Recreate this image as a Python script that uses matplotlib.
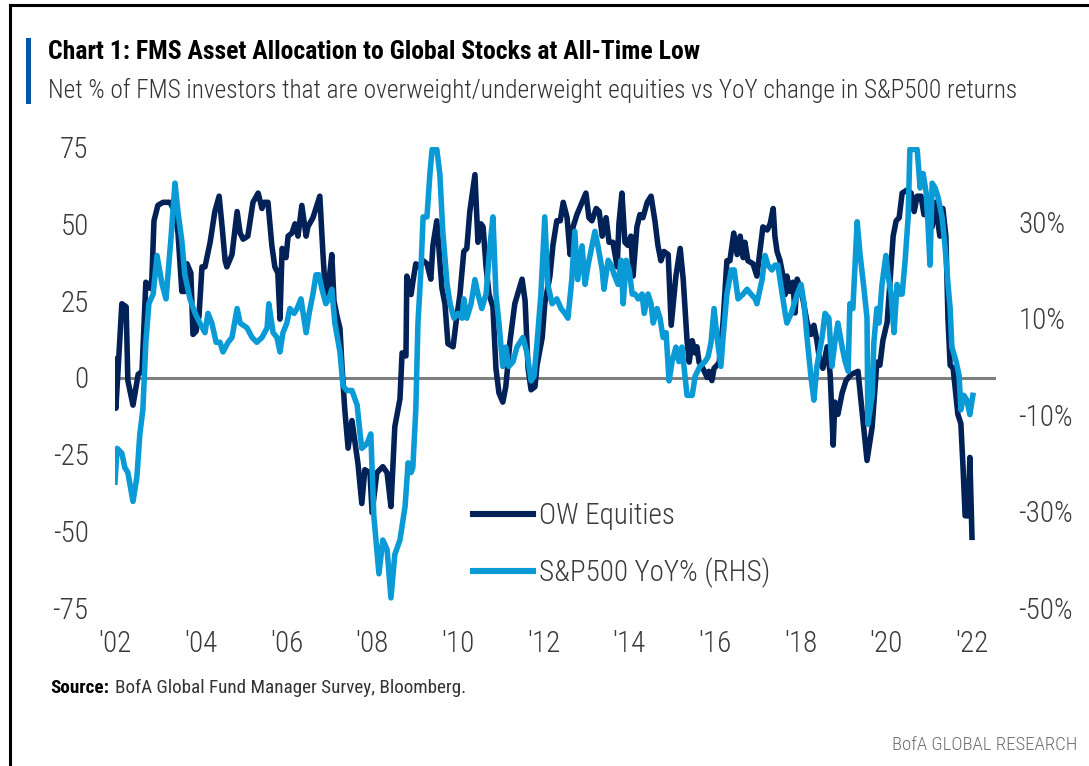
import matplotlib
matplotlib.use('Agg')
import matplotlib.pyplot as plt
from matplotlib import font_manager
from matplotlib.lines import Line2D
from matplotlib.patches import Rectangle

# net % of FMS investors overweight equities (left axis)
ow_years = [
    2002.00, 2002.02, 2002.16, 2002.26, 2002.30, 2002.42, 2002.54, 2002.63, 2002.72, 2002.82,
    2002.86, 2002.91, 2003.00, 2003.12, 2003.28, 2003.40, 2003.47, 2003.56, 2003.63, 2003.68,
    2003.77, 2003.82, 2003.89, 2003.96, 2004.03, 2004.10, 2004.22, 2004.33, 2004.43, 2004.50,
    2004.57, 2004.61, 2004.73, 2004.85, 2004.92, 2004.99, 2005.10, 2005.22, 2005.34, 2005.43,
    2005.48, 2005.57, 2005.66, 2005.73, 2005.80, 2005.85, 2005.90, 2005.99, 2006.04, 2006.13,
    2006.20, 2006.27, 2006.36, 2006.46, 2006.50, 2006.62, 2006.78, 2006.85, 2006.92, 2006.99,
    2007.06, 2007.11, 2007.18, 2007.25, 2007.30, 2007.36, 2007.44, 2007.53, 2007.60, 2007.67,
    2007.76, 2007.83, 2007.95, 2008.00, 2008.11, 2008.25, 2008.35, 2008.44, 2008.53, 2008.65,
    2008.70, 2008.79, 2008.81, 2008.91, 2008.95, 2009.02, 2009.09, 2009.19, 2009.28, 2009.37,
    2009.42, 2009.51, 2009.58, 2009.63, 2009.70, 2009.77, 2009.89, 2009.96, 2010.05, 2010.14,
    2010.21, 2010.28, 2010.40, 2010.47, 2010.54, 2010.59, 2010.66, 2010.73, 2010.82, 2010.89,
    2010.96, 2011.05, 2011.12, 2011.22, 2011.33, 2011.50, 2011.57, 2011.64, 2011.71, 2011.80,
    2011.85, 2011.97, 2012.03, 2012.15, 2012.22, 2012.31, 2012.39, 2012.46, 2012.55, 2012.62,
    2012.69, 2012.78, 2012.90, 2012.99, 2013.06, 2013.13, 2013.23, 2013.30, 2013.37, 2013.46,
    2013.53, 2013.62, 2013.72, 2013.76, 2013.83, 2013.90, 2013.97, 2014.04, 2014.09, 2014.18,
    2014.25, 2014.32, 2014.42, 2014.51, 2014.60, 2014.67, 2014.74, 2014.81, 2014.91, 2014.98,
    2015.09, 2015.19, 2015.26, 2015.35, 2015.40, 2015.47, 2015.54, 2015.58, 2015.63, 2015.72,
    2015.82, 2015.86, 2015.93, 2015.98, 2016.05, 2016.10, 2016.19, 2016.28, 2016.35, 2016.44,
    2016.52, 2016.59, 2016.66, 2016.70, 2016.77, 2016.89, 2016.98, 2017.05, 2017.12, 2017.22,
    2017.29, 2017.36, 2017.40, 2017.45, 2017.52, 2017.59, 2017.64, 2017.68, 2017.75, 2017.82,
    2017.87, 2017.92, 2017.99, 2018.06, 2018.15, 2018.24, 2018.31, 2018.38, 2018.45, 2018.52,
    2018.62, 2018.69, 2018.76, 2018.80, 2018.87, 2018.97, 2019.06, 2019.18, 2019.34, 2019.55,
    2019.67, 2019.78, 2019.85, 2019.92, 2020.02, 2020.09, 2020.16, 2020.23, 2020.30, 2020.37,
    2020.48, 2020.58, 2020.65, 2020.72, 2020.81, 2020.88, 2020.97, 2021.07, 2021.14, 2021.25,
    2021.32, 2021.39, 2021.44, 2021.49, 2021.56, 2021.67, 2021.74, 2021.79, 2021.84, 2021.91,
    2021.95, 2022.00]
ow_values = [
    6, -10, 24, 23, -1, -9, 1, 2, 31, 29,
    32, 51, 56, 57, 57, 54, 47, 28, 28, 37,
    34, 14, 15, 20, 36, 36, 44, 54, 59, 49,
    38, 36, 40, 54, 47, 45, 46, 57, 60, 55,
    57, 57, 43, 36, 34, 19, 42, 39, 46, 47,
    50, 46, 56, 46, 49, 52, 59, 41, 25, 31,
    40, 25, 20, 16, 3, -10, -23, -14, -21, -28,
    -41, -30, -31, -44, -31, -29, -31, -42, -16, -7,
    8, 7, 33, 27, 31, 37, 36, 38, 37, 32,
    43, 51, 38, 29, 24, 11, 10, 18, 27, 41,
    42, 54, 66, 44, 50, 49, 36, 27, 23, 3,
    -5, -8, -3, 12, 24, 32, 25, 3, -4, -3,
    4, 13, 24, 33, 43, 51, 51, 57, 52, 40,
    49, 53, 57, 60, 52, 51, 55, 54, 46, 52,
    44, 44, 36, 50, 60, 44, 43, 46, 33, 49,
    53, 52, 57, 59, 51, 43, 38, 41, 40, 17,
    33, 42, 32, 12, 5, 12, 8, 10, 5, 3,
    0, 2, -1, 3, 4, 5, 18, 38, 38, 47,
    40, 46, 39, 44, 38, 37, 33, 41, 49, 48,
    50, 55, 46, 41, 38, 33, 27, 33, 28, 31,
    21, 32, 29, 25, 18, 14, 17, 12, 5, 3,
    10, 1, -22, -8, -12, -5, -1, 1, 2, -27,
    -16, 5, 4, 12, 18, 32, 46, 51, 52, 60,
    61, 60, 54, 59, 59, 53, 56, 49, 57, 46,
    55, 46, 19, 4, 3, -12, -15, -29, -45, -45,
    -26, -52]

# S&P500 YoY % (right axis)
spx_years = [
    2002.00, 2002.05, 2002.16, 2002.23, 2002.30, 2002.42, 2002.51, 2002.58, 2002.65, 2002.72,
    2002.79, 2002.89, 2002.98, 2003.10, 2003.19, 2003.31, 2003.40, 2003.47, 2003.56, 2003.63,
    2003.75, 2003.87, 2003.98, 2004.10, 2004.17, 2004.26, 2004.36, 2004.45, 2004.52, 2004.64,
    2004.73, 2004.85, 2004.92, 2005.08, 2005.20, 2005.31, 2005.43, 2005.55, 2005.59, 2005.69,
    2005.78, 2005.85, 2005.92, 2006.01, 2006.08, 2006.18, 2006.25, 2006.34, 2006.46, 2006.53,
    2006.62, 2006.69, 2006.76, 2006.83, 2006.92, 2006.99, 2007.06, 2007.13, 2007.25, 2007.32,
    2007.41, 2007.53, 2007.65, 2007.72, 2007.76, 2007.88, 2007.97, 2008.04, 2008.16, 2008.25,
    2008.35, 2008.44, 2008.53, 2008.65, 2008.77, 2008.84, 2008.91, 2008.95, 2009.02, 2009.07,
    2009.14, 2009.19, 2009.28, 2009.35, 2009.40, 2009.51, 2009.58, 2009.65, 2009.75, 2009.82,
    2009.91, 2010.00, 2010.10, 2010.14, 2010.21, 2010.31, 2010.40, 2010.47, 2010.56, 2010.66,
    2010.75, 2010.82, 2010.89, 2010.96, 2011.05, 2011.12, 2011.19, 2011.29, 2011.38, 2011.52,
    2011.61, 2011.71, 2011.78, 2011.85, 2011.94, 2012.03, 2012.10, 2012.20, 2012.31, 2012.41,
    2012.50, 2012.57, 2012.66, 2012.73, 2012.80, 2012.90, 2012.97, 2013.04, 2013.13, 2013.20,
    2013.27, 2013.37, 2013.41, 2013.51, 2013.58, 2013.65, 2013.74, 2013.81, 2013.86, 2013.93,
    2014.00, 2014.07, 2014.14, 2014.21, 2014.30, 2014.35, 2014.44, 2014.51, 2014.56, 2014.65,
    2014.72, 2014.79, 2014.86, 2014.93, 2015.00, 2015.09, 2015.16, 2015.23, 2015.35, 2015.47,
    2015.54, 2015.65, 2015.77, 2015.84, 2015.91, 2015.98, 2016.05, 2016.14, 2016.19, 2016.28,
    2016.38, 2016.45, 2016.54, 2016.66, 2016.75, 2016.84, 2016.94, 2016.98, 2017.10, 2017.17,
    2017.24, 2017.33, 2017.40, 2017.47, 2017.57, 2017.64, 2017.68, 2017.78, 2017.85, 2017.92,
    2018.01, 2018.08, 2018.15, 2018.24, 2018.31, 2018.38, 2018.50, 2018.57, 2018.66, 2018.73,
    2018.80, 2018.87, 2018.97, 2019.04, 2019.11, 2019.15, 2019.22, 2019.32, 2019.39, 2019.48,
    2019.55, 2019.57, 2019.67, 2019.71, 2019.78, 2019.83, 2019.90, 2019.99, 2020.04, 2020.11,
    2020.18, 2020.25, 2020.30, 2020.37, 2020.44, 2020.51, 2020.55, 2020.72, 2020.79, 2020.86,
    2020.93, 2020.97, 2021.02, 2021.07, 2021.14, 2021.21, 2021.30, 2021.37, 2021.44, 2021.49,
    2021.53, 2021.63, 2021.70, 2021.74, 2021.81, 2021.88, 2021.95, 2022.02]
spx_values = [
    -24, -17, -18, -21, -22, -28, -23, -14, -9, 5,
    13, 15, 23, 17, 14, 27, 38, 32, 26, 19,
    14, 11, 9, 7, 11, 9, 5, 5, 3, 5,
    6, 12, 9, 8, 6, 5, 6, 8, 13, 7,
    6, 3, 7, 9, 12, 11, 12, 14, 7, 11,
    15, 19, 19, 16, 13, 14, 16, 9, 3, -4,
    -5, -5, -8, -14, -17, -16, -14, -31, -43, -36,
    -38, -48, -39, -36, -29, -20, -22, -21, -9, 9,
    20, 31, 31, 40, 45, 45, 40, 28, 17, 13,
    10, 11, 10, 14, 10, 13, 18, 15, 12, 15,
    25, 31, 15, 9, 0, 4, 0, 1, 4, 6,
    3, -3, -2, 5, 15, 31, 17, 13, 14, 12,
    11, 10, 18, 28, 18, 25, 17, 21, 25, 28,
    25, 20, 16, 22, 21, 19, 17, 22, 13, 22,
    20, 15, 15, 14, 15, 11, 15, 13, 9, 12,
    10, 6, 7, -3, 1, 4, 1, 4, -6, -6,
    -2, 0, 1, 2, 5, 12, 6, 0, 6, 15,
    20, 20, 14, 15, 16, 15, 14, 13, 18, 23,
    21, 20, 21, 21, 15, 11, 9, 11, 13, 15,
    17, 13, 6, -2, -7, 0, 6, 11, 10, 0,
    5, 9, 4, 1, -1, 13, 12, 30, 23, 16,
    10, -12, -6, 5, 12, 9, 17, 23, 19, 15,
    7, 17, 15, 15, 22, 31, 45, 45, 37, 40,
    36, 30, 21, 38, 37, 35, 31, 25, 17, 12,
    4, 1, -2, -9, -6, -7, -10, -6]

tick_years = [2002, 2004, 2006, 2008, 2010, 2012, 2014, 2016, 2018, 2020, 2022]
tick_labels = ["'02", "'04", "'06", "'08", "'10", "'12", "'14", "'16", "'18", "'20", "'22"]
left_ticks = [-75, -50, -25, 0, 25, 50, 75]
right_ticks = [-50, -30, -10, 10, 30]

OW_COLOR = '#022156'
SPX_COLOR = '#0a9ad6'
LABEL_COLOR = '#3a3a3a'
LIGHT = 'light'


def pick_font():
    fonts = font_manager.fontManager.ttflist
    names = {f.name for f in fonts}
    for name in ('Liberation Sans Narrow', 'Roboto Condensed', 'Open Sans Condensed',
                 'Noto Sans Condensed', 'DejaVu Sans Condensed'):
        if name in names:
            return name, 'normal'
    for f in fonts:
        if 'Narrow' in f.name or 'Condensed' in f.name:
            return f.name, 'normal'
    for f in fonts:
        if f.name == 'DejaVu Sans' and f.stretch == 'condensed':
            return 'DejaVu Sans', 'condensed'
    if 'Liberation Sans' in names:
        return 'Liberation Sans', 'normal'
    return 'DejaVu Sans', 'normal'


FONT, STRETCH = pick_font()
plt.rcParams['font.family'] = [FONT, 'DejaVu Sans']
plt.rcParams['font.stretch'] = STRETCH
plt.rcParams['axes.unicode_minus'] = False

W, H = 1089, 766
fig = plt.figure(figsize=(W / 100, H / 100), dpi=100)
renderer = fig.canvas.get_renderer()


def fx(px):
    return px / W


def fy(py):
    return 1 - py / H


def text_width(s, size, weight='normal'):
    t = fig.text(0, 0, s, fontsize=size, fontweight=weight)
    w = t.get_window_extent(renderer).width
    t.remove()
    return w


def fit(s, size, target, weight='normal'):
    return size * target / text_width(s, size, weight)


# sizes fitted to the widths measured on the reference
tick_size = min(21, fit('-50%', 21, 57, LIGHT))
title = 'Chart 1: FMS Asset Allocation to Global Stocks at All-Time Low'
subtitle = ('Net % of FMS investors that are overweight/underweight equities vs '
            'YoY change in S&P500 returns')
source_rest = 'BofA Global Fund Manager Survey, Bloomberg.'
title_size = fit(title, 16, 652, 'bold')
subtitle_size = fit(subtitle, 16, 970, LIGHT)
foot_size = fit('Source: ' + source_rest, 12, 413)
brand_size = fit('BofA GLOBAL RESEARCH', 12, 184, LIGHT)

ax = fig.add_axes([fx(115), fy(608), fx(996) - fx(115), fy(147) - fy(608)])
ax2 = ax.twinx()

ax.axhline(0, color='#7f7f7f', lw=2.2, zorder=1)
ax.plot(ow_years, ow_values, color=OW_COLOR, lw=4.0, solid_joinstyle='round', zorder=2)
ax2.plot(spx_years, spx_values, color=SPX_COLOR, lw=4.0, solid_joinstyle='round', zorder=2)

ax.set_xlim(2002, 2022.56)
ax.set_ylim(-75, 75)
ax2.set_ylim(-50.1, 45.5)

ax.set_xticks(tick_years)
ax.set_xticklabels(tick_labels, fontweight=LIGHT)
ax.set_yticks(left_ticks)
ax.set_yticklabels([str(v) for v in left_ticks], fontweight=LIGHT)
ax2.set_yticks(right_ticks)
ax2.set_yticklabels([f'{v}%' for v in right_ticks], fontweight=LIGHT)

for a in (ax, ax2):
    for s in a.spines.values():
        s.set_visible(False)
ax.tick_params(axis='both', length=0, labelsize=tick_size, colors=LABEL_COLOR)
ax.tick_params(axis='y', pad=19)
ax.tick_params(axis='x', pad=16)
ax2.tick_params(axis='y', length=0, labelsize=tick_size, colors=LABEL_COLOR, pad=16)

handles = [Line2D([], [], color=OW_COLOR, lw=4.4), Line2D([], [], color=SPX_COLOR, lw=4.4)]
leg = ax2.legend(handles, ['OW Equities', 'S&P500 YoY% (RHS)'], loc='upper left',
                 bbox_to_anchor=(fx(473), fy(502)), bbox_transform=fig.transFigure,
                 frameon=False, prop={'size': tick_size, 'weight': LIGHT},
                 handlelength=2.05, handletextpad=0.2,
                 labelspacing=0.95, borderpad=0, borderaxespad=0)
for t in leg.get_texts():
    t.set_color(LABEL_COLOR)

# header
fig.add_artist(Rectangle((fx(26), fy(104)), fx(31) - fx(26), fy(38) - fy(104),
                         transform=fig.transFigure, color='#0055a6', lw=0))
fig.text(fx(48), fy(52), title, fontsize=title_size, fontweight='bold', color='black',
         va='center')
fig.text(fx(48), fy(90), subtitle, fontsize=subtitle_size, fontweight=LIGHT,
         color='#333333', va='center')

# footer
src = fig.text(fx(50), fy(688), 'Source:', fontsize=foot_size, fontweight='bold',
               color='black', va='center')
src_w = src.get_window_extent(renderer).width
fig.text(fx(50 + src_w + 6), fy(688), source_rest, fontsize=foot_size, color='#333333',
         va='center')
fig.text(fx(1077), fy(745), 'BofA GLOBAL RESEARCH', fontsize=brand_size, fontweight=LIGHT,
         color='#6e6e6e', va='center', ha='right')

# frame
fig.add_artist(Line2D([fx(10), fx(10)], [0, fy(5)], transform=fig.transFigure,
                      color='black', lw=2.2))
fig.add_artist(Line2D([fx(10), 1], [fy(5), fy(5)], transform=fig.transFigure,
                      color='black', lw=2.2))

fig.savefig('out.png', dpi=100)
